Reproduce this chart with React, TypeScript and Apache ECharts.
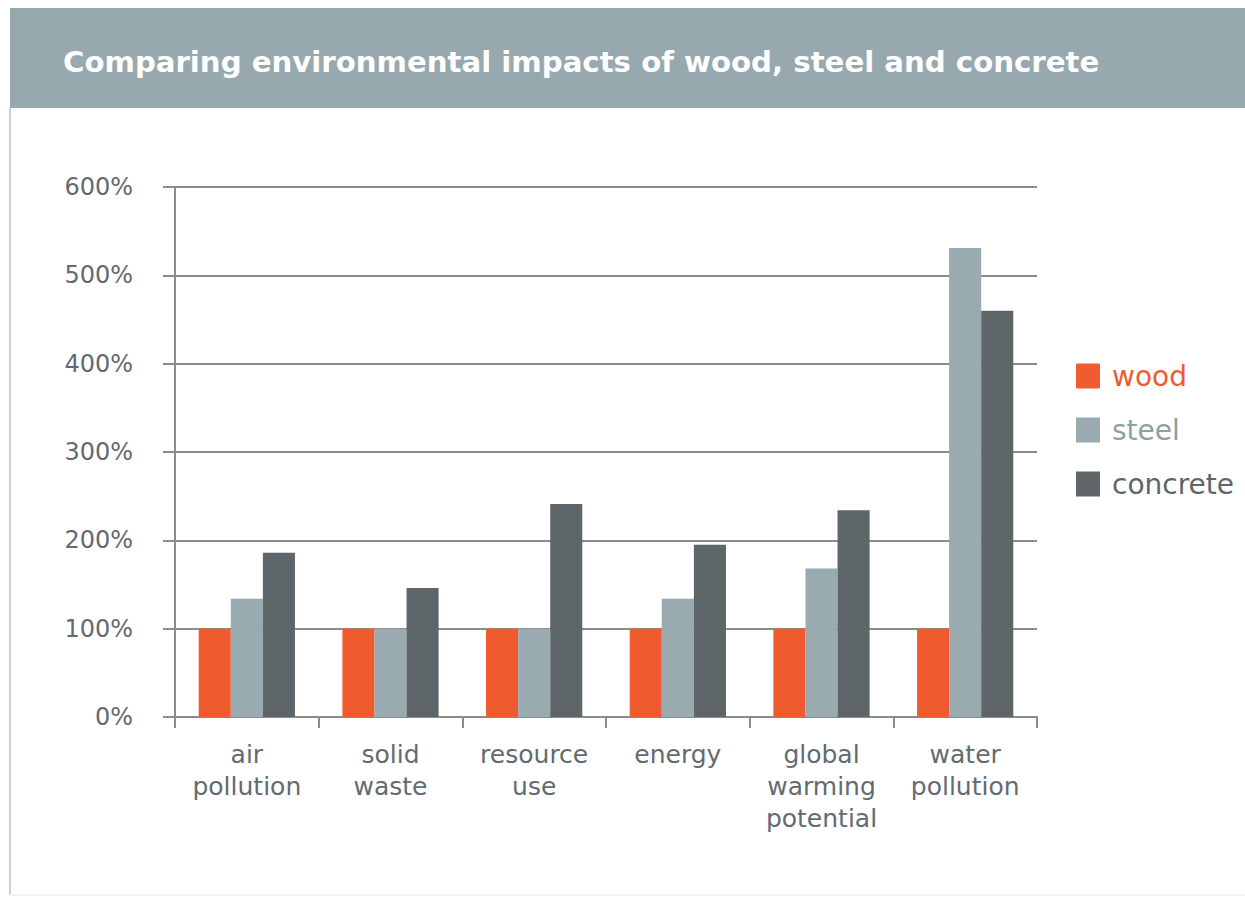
import React, { useEffect, useRef } from "react";
import * as echarts from "echarts";

// Impact categories (x axis), with line breaks as printed
const categories: string[] = [
  "air\npollution",
  "solid\nwaste",
  "resource\nuse",
  "energy",
  "global\nwarming\npotential",
  "water\npollution",
];

// Relative impact, wood = 100%
const woodValues: number[] = [100, 100, 100, 100, 100, 100];
const steelValues: number[] = [134, 100, 100, 134, 168, 531];
const concreteValues: number[] = [186, 146, 241, 195, 234, 460];

const seriesNames: string[] = ["wood", "steel", "concrete"];
const seriesColors: string[] = ["#EF5B2F", "#99ABB1", "#5E6669"];
const legendTextColors: string[] = ["#EF5B2F", "#8e9fa5", "#5E6669"];

const titleText = "Comparing environmental impacts of wood, steel and concrete";

const FONT = "'DejaVu Sans', 'Liberation Sans', Arial, sans-serif";
const AXIS_GRAY = "#8c8c8c";
const LABEL_GRAY = "#626b6f";

export default function App() {
  const ref = useRef<HTMLDivElement>(null);

  useEffect(() => {
    if (!ref.current) return;
    const chart = echarts.init(ref.current, undefined, { renderer: "svg" });

    const valueSets = [woodValues, steelValues, concreteValues];

    chart.setOption({
      animation: false,
      backgroundColor: "#ffffff",
      textStyle: { fontFamily: FONT },
      graphic: [
        {
          type: "rect",
          z: -1,
          shape: { x: 10, y: 8, width: 1235, height: 100 },
          style: { fill: "#97A9AF" },
        },
        {
          type: "line",
          shape: { x1: 10, y1: 108, x2: 10, y2: 895 },
          style: { stroke: "#c9d1d4", lineWidth: 2 },
        },
        {
          type: "line",
          shape: { x1: 10, y1: 895, x2: 1245, y2: 895 },
          style: { stroke: "#f1f3f4", lineWidth: 2 },
        },
        {
          type: "text",
          style: {
            x: 63,
            y: 62,
            text: titleText,
            fill: "#ffffff",
            font: `bold 29.2px ${FONT}`,
            verticalAlign: "middle",
            align: "left",
          },
        },
      ],
      legend: {
        orient: "vertical",
        left: 1071,
        top: 357,
        itemWidth: 24,
        itemHeight: 25,
        itemGap: 26,
        icon: "rect",
        selectedMode: false,
        data: seriesNames.map((name, i) => ({
          name,
          textStyle: { color: legendTextColors[i] },
        })),
        textStyle: {
          fontFamily: FONT,
          fontSize: 28,
          padding: [0, 0, 0, 7],
        },
      },
      grid: {
        left: 175,
        right: 1245 - 1037,
        top: 187,
        bottom: 900 - 717,
        containLabel: false,
      },
      xAxis: {
        type: "category",
        data: categories,
        axisLine: { lineStyle: { color: AXIS_GRAY, width: 2 } },
        axisTick: {
          show: true,
          length: 11,
          alignWithLabel: false,
          lineStyle: { color: AXIS_GRAY, width: 2 },
        },
        axisLabel: {
          interval: 0,
          margin: 21,
          color: LABEL_GRAY,
          fontFamily: FONT,
          fontSize: 25,
          lineHeight: 32,
          align: "center",
        },
      },
      yAxis: {
        type: "value",
        min: 0,
        max: 600,
        interval: 100,
        axisLine: { show: true, lineStyle: { color: AXIS_GRAY, width: 2 } },
        axisTick: { show: true, length: 12, lineStyle: { color: AXIS_GRAY, width: 2 } },
        splitLine: { show: true, lineStyle: { color: AXIS_GRAY, width: 2 } },
        axisLabel: {
          formatter: "{value}%",
          margin: 42,
          color: LABEL_GRAY,
          fontFamily: FONT,
          fontSize: 24,
        },
      },
      series: seriesNames.map((name, i) => ({
        name,
        type: "bar",
        data: valueSets[i],
        barGap: "0%",
        barCategoryGap: "33%",
        itemStyle: { color: seriesColors[i] },
        z: 3,
      })),
    });

    return () => {
      chart.dispose();
    };
  }, []);

  return (
    <div
      ref={ref}
      style={{ position: "absolute", left: 0, top: 0, width: 1245, height: 900 }}
    />
  );
}
